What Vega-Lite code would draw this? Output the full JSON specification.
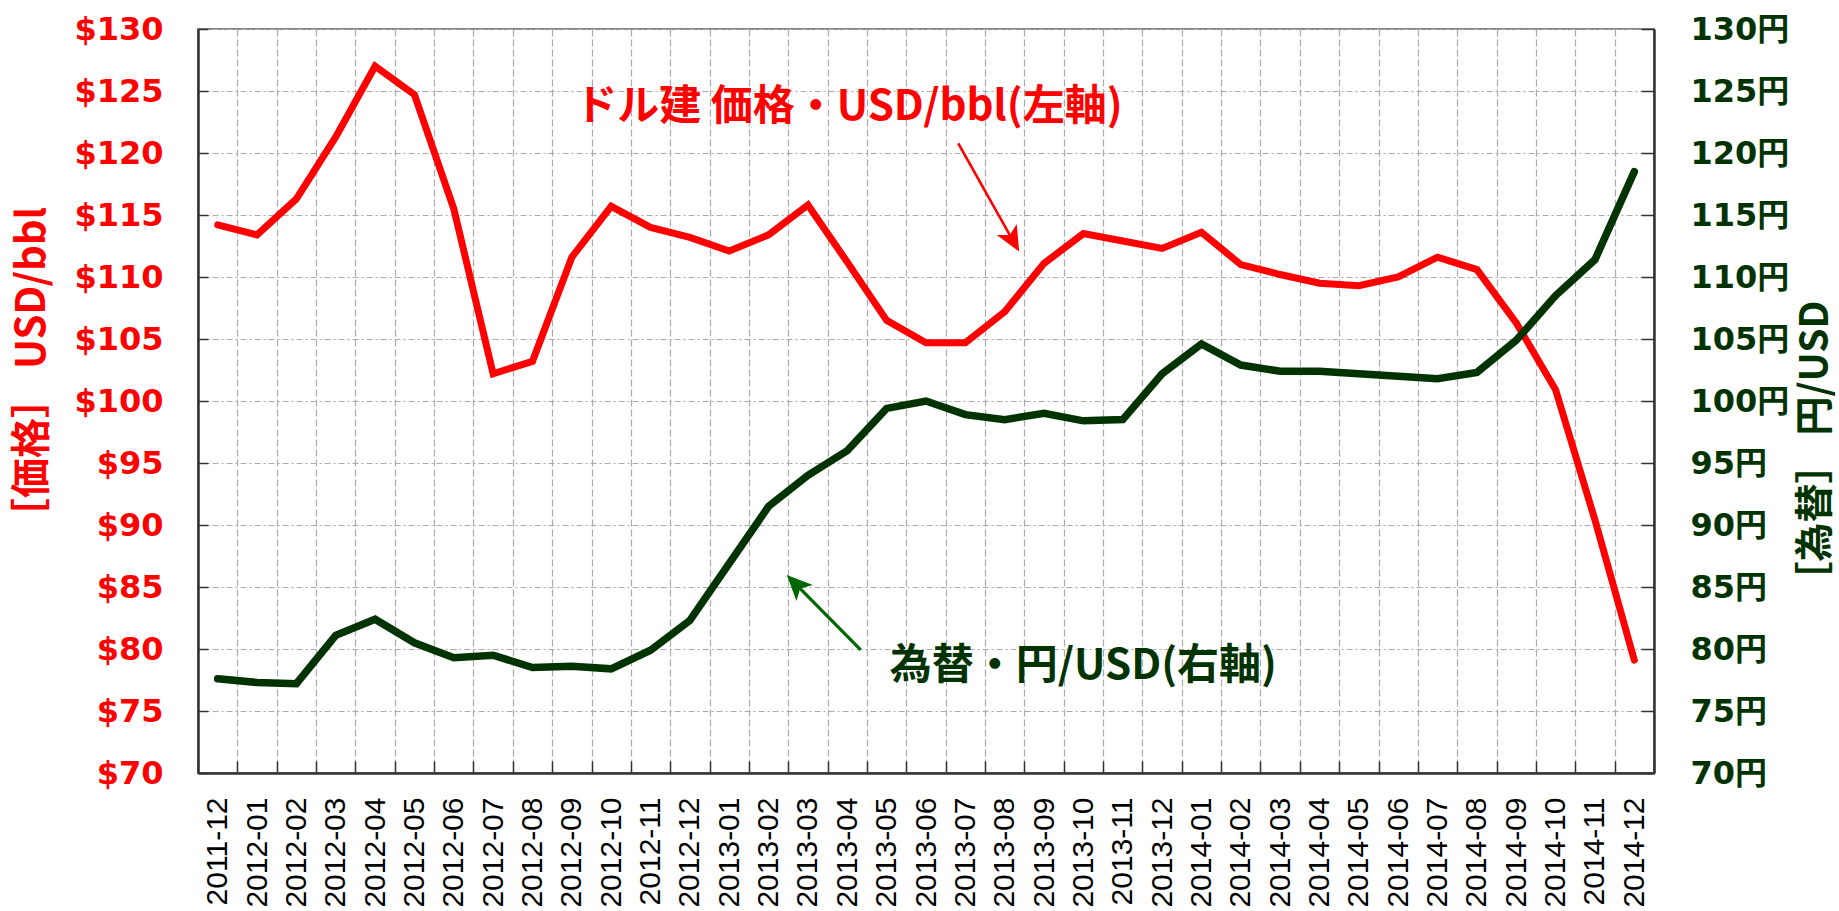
{
  "$schema": "https://vega.github.io/schema/vega-lite/v6.json",
  "width": 1456,
  "height": 744,
  "autosize": {"type": "none"},
  "padding": {"left": 198, "top": 29, "right": 185, "bottom": 138},
  "background": "white",
  "config": {
    "view": {"stroke": "#888888", "strokeWidth": 2},
    "axis": {"tickColor": "#333333", "tickWidth": 1.5, "domainColor": "#333333", "domainWidth": 2.5}
  },
  "datasets": {
    "monthly": [
      {"month": "2011-12", "price": 114.2, "fx": 77.6},
      {"month": "2012-01", "price": 113.4, "fx": 77.3},
      {"month": "2012-02", "price": 116.3, "fx": 77.2},
      {"month": "2012-03", "price": 121.3, "fx": 81.1},
      {"month": "2012-04", "price": 127.0, "fx": 82.4},
      {"month": "2012-05", "price": 124.7, "fx": 80.5},
      {"month": "2012-06", "price": 115.5, "fx": 79.3},
      {"month": "2012-07", "price": 102.2, "fx": 79.5},
      {"month": "2012-08", "price": 103.2, "fx": 78.5},
      {"month": "2012-09", "price": 111.6, "fx": 78.6},
      {"month": "2012-10", "price": 115.7, "fx": 78.4},
      {"month": "2012-11", "price": 114.0, "fx": 79.9},
      {"month": "2012-12", "price": 113.2, "fx": 82.3},
      {"month": "2013-01", "price": 112.1, "fx": 86.9},
      {"month": "2013-02", "price": 113.4, "fx": 91.5},
      {"month": "2013-03", "price": 115.8, "fx": 94.0},
      {"month": "2013-04", "price": 111.2, "fx": 96.0},
      {"month": "2013-05", "price": 106.5, "fx": 99.4},
      {"month": "2013-06", "price": 104.7, "fx": 100.0},
      {"month": "2013-07", "price": 104.7, "fx": 98.9},
      {"month": "2013-08", "price": 107.2, "fx": 98.5},
      {"month": "2013-09", "price": 111.1, "fx": 99.0},
      {"month": "2013-10", "price": 113.5, "fx": 98.4},
      {"month": "2013-11", "price": 112.9, "fx": 98.5},
      {"month": "2013-12", "price": 112.3, "fx": 102.2},
      {"month": "2014-01", "price": 113.6, "fx": 104.6},
      {"month": "2014-02", "price": 111.0, "fx": 102.9},
      {"month": "2014-03", "price": 110.2, "fx": 102.4},
      {"month": "2014-04", "price": 109.5, "fx": 102.4},
      {"month": "2014-05", "price": 109.3, "fx": 102.2},
      {"month": "2014-06", "price": 110.0, "fx": 102.0},
      {"month": "2014-07", "price": 111.6, "fx": 101.8},
      {"month": "2014-08", "price": 110.6, "fx": 102.3},
      {"month": "2014-09", "price": 106.3, "fx": 104.9},
      {"month": "2014-10", "price": 100.9, "fx": 108.5},
      {"month": "2014-11", "price": 90.4, "fx": 111.4},
      {"month": "2014-12", "price": 79.1, "fx": 118.5}
    ]
  },
  "layer": [
    {
      "layer": [
        {
          "data": {"name": "monthly"},
          "mark": {"type": "line", "color": "#ff0000", "strokeWidth": 7, "strokeCap": "round", "strokeJoin": "miter"},
          "encoding": {
            "x": {
              "field": "month", "type": "ordinal", "bandPosition": 0.5,
              "scale": {"type": "band", "paddingInner": 0, "paddingOuter": 0},
              "axis": {
                "title": null, "labelAngle": -90, "labelFont": "Liberation Sans", "labelFontSize": 30,
                "labelColor": "#000000", "labelPadding": 36, "tickSize": -12, "tickBand": "extent",
                "grid": true, "gridColor": "#aaaaaa", "gridDash": [7, 3], "gridWidth": 1.2
              }
            },
            "y": {
              "field": "price", "type": "quantitative",
              "scale": {"domain": [70, 130], "nice": false, "zero": false},
              "axis": {
                "orient": "left", "title": "［価格］ USD/bbl",
                "titleFont": "Noto Sans CJK JP", "titleFontSize": 40, "titleFontWeight": "bold", "titleColor": "#ff0000",
                "titleAngle": 270, "titleAlign": "center", "titleBaseline": "middle", "titleX": -166, "titleY": 343,
                "values": [70, 75, 80, 85, 90, 95, 100, 105, 110, 115, 120, 125, 130],
                "labelExpr": "'$' + datum.value", "labelFont": "DejaVu Sans", "labelFontWeight": "bold",
                "labelFontSize": 32, "labelColor": "#ff0000", "labelPadding": 45, "tickSize": -10,
                "grid": true, "gridColor": "#aaaaaa", "gridDash": [6, 3, 2, 3], "gridWidth": 1.2
              }
            }
          }
        },
        {
          "data": {"name": "monthly"},
          "mark": {"type": "line", "color": "#003300", "strokeWidth": 7.5, "strokeCap": "round", "strokeJoin": "miter"},
          "encoding": {
            "x": {
              "field": "month", "type": "ordinal", "bandPosition": 0.5,
              "scale": {"type": "band", "paddingInner": 0, "paddingOuter": 0}
            },
            "y": {
              "field": "fx", "type": "quantitative",
              "scale": {"domain": [70, 130], "nice": false, "zero": false},
              "axis": {
                "orient": "right", "title": "［為替］ 円/USD",
                "titleFont": "Noto Sans CJK JP", "titleFontSize": 39, "titleFontWeight": "bold", "titleColor": "#003300",
                "titleAngle": 270, "titleAlign": "center", "titleBaseline": "middle", "titleX": 161, "titleY": 421,
                "values": [70, 75, 80, 85, 90, 95, 100, 105, 110, 115, 120, 125, 130],
                "labelExpr": "datum.value + '円'", "labelFont": "DejaVu Sans, Noto Sans CJK JP", "labelFontWeight": "bold",
                "labelFontSize": 32, "labelColor": "#003300", "labelPadding": 49, "tickSize": -13, "grid": false
              }
            }
          }
        }
      ],
      "resolve": {"scale": {"y": "independent"}}
    },
    {
      "layer": [
        {
          "data": {"values": [{"i": 19.32, "v": 120.78, "i2": 20.71, "v2": 112.94}]},
          "mark": {"type": "rule", "color": "#ff0000", "strokeWidth": 2.6},
          "encoding": {
            "x": {"field": "i", "type": "quantitative", "scale": {"domain": [0, 37], "nice": false, "zero": false}, "axis": null},
            "y": {"field": "v", "type": "quantitative", "scale": {"domain": [70, 130], "nice": false, "zero": false}, "axis": null},
            "x2": {"field": "i2"},
            "y2": {"field": "v2"}
          }
        },
        {
          "data": {"values": [{"i": 20.71, "v": 112.94}]},
          "mark": {"type": "point", "shape": "M0,-1L0.9,1L0,0.5L-0.9,1Z", "filled": true, "opacity": 1, "color": "#ff0000", "size": 645, "angle": 150.7},
          "encoding": {
            "x": {"field": "i", "type": "quantitative", "scale": {"domain": [0, 37], "nice": false, "zero": false}, "axis": null},
            "y": {"field": "v", "type": "quantitative", "scale": {"domain": [70, 130], "nice": false, "zero": false}, "axis": null}
          }
        },
        {
          "data": {"values": [{"i": 16.84, "v": 79.92, "i2": 15.19, "v2": 85.24}]},
          "mark": {"type": "rule", "color": "#006600", "strokeWidth": 3.2},
          "encoding": {
            "x": {"field": "i", "type": "quantitative", "scale": {"domain": [0, 37], "nice": false, "zero": false}, "axis": null},
            "y": {"field": "v", "type": "quantitative", "scale": {"domain": [70, 130], "nice": false, "zero": false}, "axis": null},
            "x2": {"field": "i2"},
            "y2": {"field": "v2"}
          }
        },
        {
          "data": {"values": [{"i": 15.19, "v": 85.24}]},
          "mark": {"type": "point", "shape": "M0,-1L0.9,1L0,0.5L-0.9,1Z", "filled": true, "opacity": 1, "color": "#006600", "size": 645, "angle": 315.4},
          "encoding": {
            "x": {"field": "i", "type": "quantitative", "scale": {"domain": [0, 37], "nice": false, "zero": false}, "axis": null},
            "y": {"field": "v", "type": "quantitative", "scale": {"domain": [70, 130], "nice": false, "zero": false}, "axis": null}
          }
        },
        {
          "data": {"values": [{"i": 16.54, "v": 123.67, "label": "ドル建 価格・USD/bbl(左軸)"}]},
          "mark": {"type": "text", "color": "#ff0000", "font": "Noto Sans CJK JP", "fontWeight": "bold", "fontSize": 42, "align": "center", "baseline": "middle"},
          "encoding": {
            "x": {"field": "i", "type": "quantitative", "scale": {"domain": [0, 37], "nice": false, "zero": false}, "axis": null},
            "y": {"field": "v", "type": "quantitative", "scale": {"domain": [70, 130], "nice": false, "zero": false}, "axis": null},
            "text": {"field": "label"}
          }
        },
        {
          "data": {"values": [{"i": 22.5, "v": 78.63, "label": "為替・円/USD(右軸)"}]},
          "mark": {"type": "text", "color": "#003300", "font": "Noto Sans CJK JP", "fontWeight": "bold", "fontSize": 42, "align": "center", "baseline": "middle"},
          "encoding": {
            "x": {"field": "i", "type": "quantitative", "scale": {"domain": [0, 37], "nice": false, "zero": false}, "axis": null},
            "y": {"field": "v", "type": "quantitative", "scale": {"domain": [70, 130], "nice": false, "zero": false}, "axis": null},
            "text": {"field": "label"}
          }
        }
      ]
    }
  ],
  "resolve": {"scale": {"x": "independent", "y": "independent"}}
}
